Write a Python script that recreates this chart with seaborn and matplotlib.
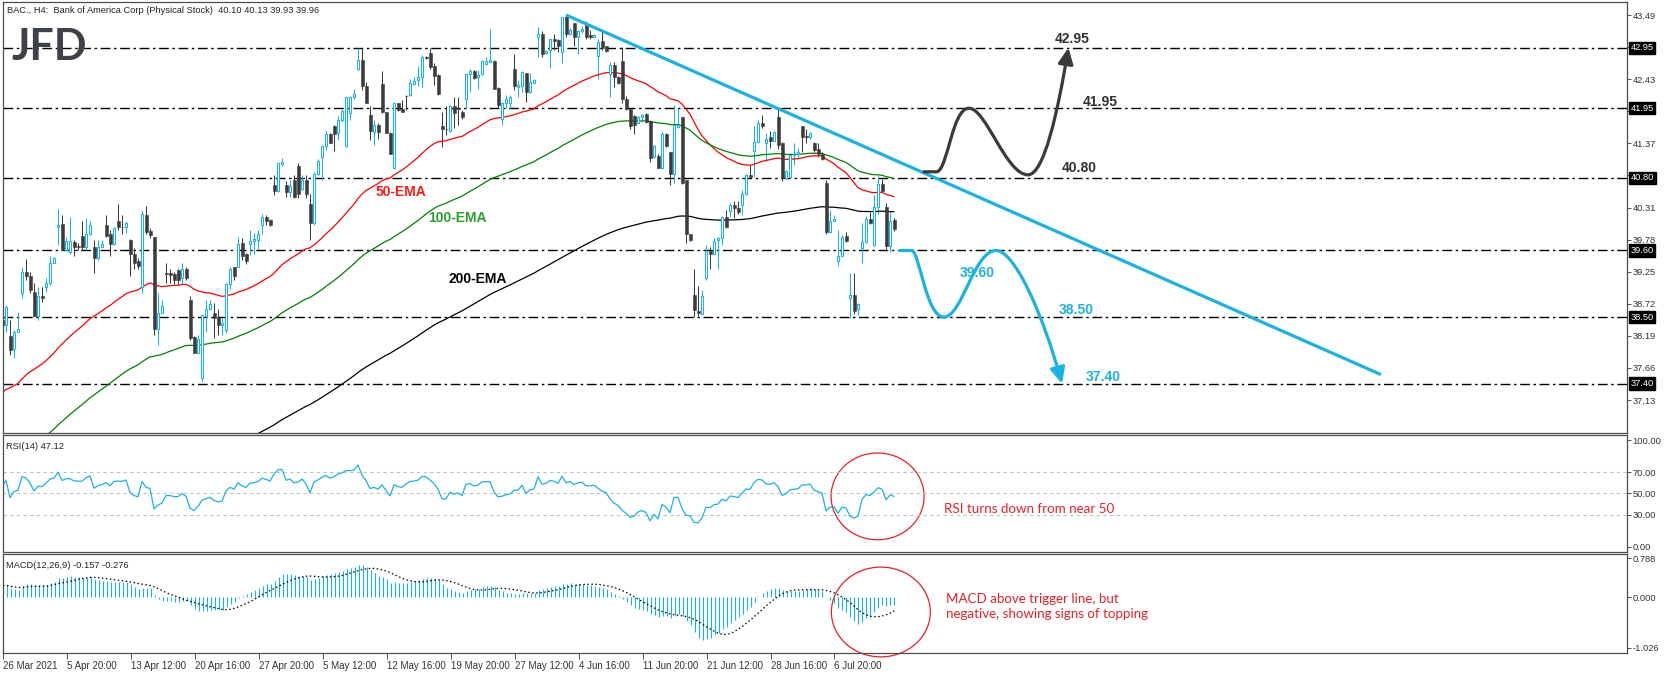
import matplotlib
matplotlib.use('Agg')
import matplotlib.pyplot as plt
from matplotlib.path import Path
from matplotlib.patches import FancyArrowPatch, Ellipse
import numpy as np
import pandas as pd
import seaborn as sns

sns.set_theme(style='white')
plt.rcParams['font.family'] = ['Liberation Sans', 'DejaVu Sans']

# H4 candles (open, high, low, close)
opens = [38.45, 38.37, 38.18, 37.97, 38.26, 38.89, 39.25, 39.18, 38.91, 38.52, 38.85, 38.99, 39.07, 39.40, 39.99, 40.03,
         39.61, 39.57, 39.74, 39.67, 39.84, 39.65, 39.88, 39.65, 39.48, 39.66, 40.02, 39.87, 39.70, 40.09, 39.99, 39.98,
         39.77, 39.55, 39.43, 38.99, 40.19, 39.93, 39.83, 38.31, 38.56, 39.23, 39.22, 39.21, 39.27, 39.14, 39.30, 38.78,
         38.17, 37.90, 37.50, 38.52, 38.63, 38.57, 38.48, 38.37, 38.28, 39.05, 39.32, 39.33, 39.72, 39.54, 39.70, 39.76,
         39.77, 40.02, 40.15, 40.10, 40.68, 40.58, 41.03, 40.68, 40.57, 40.77, 40.99, 40.61, 40.77, 40.36, 40.05, 40.87,
         41.15, 41.33, 41.52, 41.66, 41.54, 41.76, 41.33, 41.87, 42.13, 42.59, 42.75, 42.32, 41.84, 41.56, 41.67, 42.35,
         41.88, 41.54, 40.96, 42.03, 41.93, 42.16, 42.17, 42.35, 42.41, 42.46, 42.80, 42.87, 42.64, 42.50, 41.65, 41.61,
         41.58, 41.99, 41.96, 41.88, 42.10, 42.51, 42.57, 42.47, 42.52, 42.68, 42.72, 42.73, 42.28, 41.78, 42.04, 42.04,
         42.59, 42.30, 42.32, 42.53, 42.22, 42.37, 43.12, 43.17, 42.86, 42.91, 43.09, 43.08, 42.88, 43.45, 43.18, 43.35,
         43.13, 43.22, 43.34, 43.16, 43.13, 42.82, 43.06, 42.97, 42.51, 42.66, 42.47, 42.73, 42.11, 41.93, 41.82, 41.70,
         41.80, 41.86, 41.74, 41.15, 41.16, 40.97, 41.52, 41.22, 40.87, 41.64, 41.81, 40.77, 39.88, 38.86, 38.60, 38.55,
         39.14, 39.59, 39.55, 39.77, 39.80, 40.16, 40.26, 40.35, 40.30, 40.35, 40.54, 40.85, 41.25, 41.39, 41.70, 41.37,
         41.48, 41.41, 41.80, 41.37, 40.79, 40.81, 41.17, 41.19, 41.66, 41.49, 41.48, 41.38, 41.27, 41.20, 40.72, 39.91,
         40.09, 39.42, 39.51, 39.84, 38.82, 38.86, 38.63, 39.64, 39.74, 40.12, 39.69, 40.32, 40.70, 40.32, 39.68, 40.10]
highs = [38.50, 38.70, 38.45, 38.29, 38.59, 39.33, 39.46, 39.24, 39.06, 39.00, 38.99, 39.15, 39.51, 39.50, 40.29, 40.19,
         39.83, 40.15, 39.77, 39.72, 40.09, 40.14, 40.08, 39.77, 39.77, 39.77, 40.19, 39.94, 39.98, 40.37, 40.18, 40.09,
         39.79, 39.64, 39.47, 40.25, 40.34, 39.97, 39.83, 38.89, 38.78, 39.40, 39.30, 39.25, 39.30, 39.40, 39.33, 38.85,
         38.18, 38.20, 38.55, 38.78, 38.78, 38.73, 38.63, 38.48, 39.06, 39.33, 39.33, 39.83, 39.80, 39.56, 39.94, 39.89,
         39.94, 40.21, 40.19, 40.12, 40.84, 41.07, 41.12, 40.74, 40.76, 40.85, 41.04, 40.84, 40.85, 40.54, 40.89, 41.11,
         41.34, 41.58, 41.54, 41.67, 41.82, 41.93, 42.14, 42.15, 42.26, 42.94, 42.95, 42.39, 41.98, 41.76, 41.71, 42.57,
         41.88, 41.56, 42.06, 42.04, 42.09, 42.17, 42.44, 42.47, 42.65, 42.83, 42.81, 42.95, 42.69, 42.52, 41.89, 41.98,
         42.00, 42.13, 42.13, 41.92, 42.53, 42.59, 42.58, 42.58, 42.75, 42.80, 43.26, 42.74, 42.30, 42.06, 42.17, 42.17,
         42.84, 42.42, 42.57, 42.54, 42.54, 42.44, 43.30, 43.23, 42.92, 43.10, 43.17, 43.09, 43.46, 43.49, 43.27, 43.36,
         43.24, 43.31, 43.39, 43.24, 43.17, 43.09, 43.24, 42.97, 42.72, 42.72, 42.48, 42.96, 42.15, 41.95, 41.84, 41.82,
         41.86, 41.87, 41.76, 41.34, 41.19, 41.56, 41.54, 41.23, 42.00, 41.95, 41.81, 40.77, 39.88, 39.29, 39.01, 38.95,
         39.69, 39.65, 39.80, 39.83, 40.17, 40.27, 40.38, 40.41, 40.41, 40.60, 40.87, 41.01, 41.65, 41.76, 41.84, 41.54,
         41.58, 41.58, 41.95, 41.40, 40.93, 41.19, 41.37, 41.29, 41.66, 41.60, 41.55, 41.40, 41.37, 41.23, 40.77, 40.27,
         40.19, 39.94, 39.85, 39.91, 39.22, 39.22, 38.74, 40.05, 40.17, 40.24, 40.51, 40.83, 40.78, 40.38, 40.26, 40.13]
lows = [38.15, 38.26, 37.87, 37.82, 38.26, 38.82, 39.11, 38.90, 38.51, 38.45, 38.75, 38.92, 39.03, 39.39, 39.69, 39.60,
        39.60, 39.54, 39.51, 39.60, 39.61, 39.60, 39.86, 39.22, 39.45, 39.65, 39.83, 39.51, 39.69, 39.94, 39.88, 39.89,
        39.18, 39.30, 39.30, 38.90, 39.87, 39.80, 38.20, 38.04, 38.56, 39.06, 39.06, 39.05, 39.05, 39.05, 39.12, 38.12,
        37.90, 37.90, 37.42, 38.26, 38.62, 38.15, 38.20, 38.20, 38.23, 38.97, 39.11, 39.32, 39.45, 39.38, 39.52, 39.55,
        39.62, 39.87, 40.02, 40.00, 40.51, 40.57, 40.99, 40.49, 40.49, 40.46, 40.46, 40.60, 40.46, 39.78, 40.02, 40.85,
        40.77, 41.26, 41.37, 41.25, 41.42, 41.73, 41.31, 41.75, 42.11, 42.58, 42.25, 42.03, 41.42, 41.34, 41.45, 41.87,
        41.54, 41.19, 40.94, 41.91, 41.88, 41.92, 42.15, 42.33, 42.32, 42.30, 42.76, 42.59, 42.33, 42.17, 41.31, 41.51,
        41.55, 41.62, 41.67, 41.78, 41.93, 42.22, 42.44, 42.26, 42.50, 42.66, 42.72, 42.27, 41.95, 41.67, 41.95, 41.94,
        42.25, 42.13, 42.22, 42.06, 42.20, 42.37, 42.80, 42.80, 42.84, 42.61, 42.91, 42.88, 42.69, 43.13, 43.16, 42.98,
        42.85, 43.19, 43.10, 43.09, 43.12, 42.44, 42.91, 42.88, 42.13, 42.30, 42.35, 42.03, 41.92, 41.60, 41.52, 41.69,
        41.73, 41.70, 41.07, 41.13, 40.96, 40.94, 41.31, 40.68, 40.72, 41.62, 40.70, 39.73, 39.75, 38.50, 38.52, 38.53,
        39.12, 39.30, 39.54, 39.29, 39.69, 39.97, 40.16, 40.13, 40.20, 40.19, 40.52, 40.82, 40.82, 41.38, 41.62, 41.08,
        41.30, 41.41, 41.27, 40.75, 40.79, 40.79, 41.01, 41.15, 41.22, 41.37, 41.44, 41.23, 41.15, 41.09, 39.88, 39.89,
        40.08, 39.34, 39.51, 39.74, 38.48, 38.55, 38.53, 39.40, 39.72, 40.04, 39.67, 40.20, 40.57, 39.63, 39.58, 39.93]
closes = [38.37, 38.66, 37.96, 38.26, 38.31, 39.25, 39.18, 38.94, 38.52, 38.85, 38.82, 39.07, 39.40, 39.47, 40.02, 39.61,
          39.76, 39.76, 39.66, 39.65, 39.65, 39.88, 40.02, 39.48, 39.65, 39.71, 39.84, 39.70, 39.97, 39.99, 39.98, 40.06,
          39.55, 39.40, 39.35, 40.20, 39.91, 39.86, 38.31, 38.56, 38.68, 39.21, 39.20, 39.12, 39.12, 39.30, 39.14, 38.15,
          37.90, 38.13, 38.53, 38.63, 38.72, 38.48, 38.37, 38.41, 39.04, 39.30, 39.18, 39.70, 39.51, 39.42, 39.76, 39.79,
          39.88, 40.15, 40.09, 40.02, 40.59, 41.04, 41.07, 40.57, 40.67, 40.48, 40.54, 40.77, 40.54, 40.05, 40.87, 41.08,
          41.33, 41.52, 41.38, 41.52, 41.76, 41.90, 42.13, 42.13, 42.19, 42.75, 42.31, 42.03, 41.58, 41.67, 41.56, 41.88,
          41.54, 41.19, 42.04, 41.92, 41.88, 42.15, 42.36, 42.40, 42.47, 42.80, 42.78, 42.63, 42.48, 42.19, 41.61, 41.60,
          41.99, 41.87, 41.94, 41.80, 42.51, 42.57, 42.45, 42.50, 42.73, 42.73, 42.74, 42.27, 42.01, 42.04, 42.11, 42.14,
          42.31, 42.33, 42.55, 42.22, 42.39, 42.42, 43.17, 42.84, 42.90, 43.09, 43.06, 42.97, 43.45, 43.18, 43.25, 43.13,
          43.23, 43.26, 43.13, 43.12, 43.16, 43.05, 42.95, 42.90, 42.66, 42.47, 42.37, 42.11, 41.93, 41.65, 41.68, 41.80,
          41.84, 41.73, 41.13, 41.33, 40.97, 41.52, 41.33, 40.87, 41.67, 41.68, 40.72, 39.88, 39.78, 38.62, 38.56, 38.85,
          39.59, 39.55, 39.76, 39.80, 40.15, 39.99, 40.35, 40.31, 40.23, 40.54, 40.85, 40.82, 41.39, 41.70, 41.66, 41.45,
          41.41, 41.55, 41.34, 40.79, 40.91, 41.17, 41.20, 41.23, 41.48, 41.48, 41.54, 41.26, 41.19, 41.11, 39.91, 40.09,
          40.12, 39.51, 39.83, 39.75, 38.86, 38.60, 38.71, 39.74, 40.12, 40.05, 40.32, 40.70, 40.59, 39.68, 40.09, 39.96]

# indicator values at the first visible bar
ema_start = {50: 37.25, 100: 36.00, 200: 34.20}
macd_start = (38.35, 38.12)          # EMA12, EMA26
rsi_start = (0.080, 0.062)           # average gain, average loss

# horizontal levels and price-axis ticks
levels = [42.95, 41.95, 40.80, 39.60, 38.50, 37.40]
price_ticks = [43.49, 42.96, 42.43, 41.90, 41.37, 40.84, 40.31, 39.78, 39.25, 38.72, 38.19, 37.66, 37.13]
rsi_ticks = [100, 70, 50, 30, 0]
macd_ticks = [0.788, 0.0, -1.026]
date_labels = ['26 Mar 2021', '5 Apr 20:00', '13 Apr 12:00', '20 Apr 16:00', '27 Apr 20:00', '5 May 12:00',
               '12 May 16:00', '19 May 20:00', '27 May 12:00', '4 Jun 16:00', '11 Jun 20:00', '21 Jun 12:00',
               '28 Jun 16:00', '6 Jul 20:00']

# trend line (bar, price) and scenario paths
trend_x = [141, 344.75]
trend_y = [43.49, 37.55]
bull_path = [(230.5, 40.90), (233.75, 40.90),
             (236.5, 40.95), (237.5, 41.95), (241.75, 41.95),
             (246.0, 41.95), (251.0, 40.85), (256.5, 40.85),
             (260.5, 40.85), (264.0, 41.90), (266.6, 42.95)]
bear_path = [(224.5, 39.60), (227.5, 39.60),
             (229.5, 39.55), (231.0, 38.50), (235.5, 38.50),
             (240.0, 38.50), (243.0, 39.60), (248.5, 39.60),
             (253.0, 39.60), (260.0, 38.60), (265.0, 37.40)]

BLUE = '#1ab2e2'
DARK = '#3b3b3b'
RED = '#e8202a'
W, H = 1670, 674
SMALL = 6.7

n = len(closes)
idx = np.arange(n)
df = pd.DataFrame({'o': opens, 'h': highs, 'l': lows, 'c': closes}, index=idx)


def ema(seed, span):
    s = pd.Series([seed] + closes[1:])
    return s.ewm(span=span, adjust=False).mean().to_numpy()


ema50, ema100, ema200 = ema(ema_start[50], 50), ema(ema_start[100], 100), ema(ema_start[200], 200)

# RSI(14), Wilder smoothing
ag, al = rsi_start
rsi = [100 * ag / (ag + al)]
for d in np.diff(closes):
    ag = (ag * 13 + max(d, 0)) / 14
    al = (al * 13 + max(-d, 0)) / 14
    rsi.append(100 * ag / (ag + al))
rsi = np.array(rsi)

macd = ema(macd_start[0], 12) - ema(macd_start[1], 26)
signal = pd.Series(macd).rolling(9, min_periods=1).mean().to_numpy()

fig = plt.figure(figsize=(W / 100, H / 100), dpi=100)


def box(x0, y0, x1, y1):
    return [x0 / W, 1 - y1 / H, (x1 - x0) / W, (y1 - y0) / H]


ax = fig.add_axes(box(3, 2, 1627, 433))
ax_rsi = fig.add_axes(box(3, 435, 1627, 552))
ax_macd = fig.add_axes(box(3, 554, 1627, 653))

for a in (ax, ax_rsi, ax_macd):
    a.set_xlim(0.25, 406.25)
    for sp in a.spines.values():
        sp.set_color('#4d4d4d')
        sp.set_linewidth(0.9)
    a.yaxis.tick_right()
    a.tick_params(axis='y', direction='out', length=3, width=0.7, color='#4d4d4d',
                  labelsize=SMALL, labelcolor='#333333', pad=1)
    a.set_xticks([])
    a.grid(False)

# ---- price panel
ax.set_ylim(36.585, 43.705)
for lv in levels:
    ax.axhline(lv, color='black', lw=1.0, dashes=(7, 2.6, 1.8, 2.6), zorder=1)

bull = df[df.c >= df.o]
bear = df[df.c < df.o]
ax.vlines(bull.index, bull.l, bull.h, color=BLUE, lw=0.75, zorder=2)
ax.vlines(bear.index, bear.l, bear.h, color=DARK, lw=0.75, zorder=2)
ax.bar(bull.index, np.maximum(bull.c - bull.o, 0.006), bottom=bull.o, width=0.6,
       facecolor='white', edgecolor=BLUE, linewidth=0.75, zorder=3)
ax.bar(bear.index, np.maximum(bear.o - bear.c, 0.006), bottom=bear.c, width=0.75,
       facecolor=DARK, edgecolor=DARK, linewidth=0.4, zorder=3)

sns.lineplot(x=idx, y=ema50, ax=ax, color='#ff0000', lw=0.9, zorder=2.5)
sns.lineplot(x=idx, y=ema100, ax=ax, color='#008000', lw=0.9, zorder=2.5)
sns.lineplot(x=idx, y=ema200, ax=ax, color='black', lw=0.9, zorder=2.5)

ax.plot(trend_x, trend_y, color=BLUE, lw=2.3, solid_capstyle='butt', zorder=4)


def scenario(points, color):
    codes = [Path.MOVETO, Path.LINETO] + [Path.CURVE4] * (len(points) - 2)
    arr = FancyArrowPatch(path=Path(points, codes),
                          arrowstyle='-|>,head_length=0.95,head_width=0.45',
                          mutation_scale=10, color=color, lw=2.3, zorder=5)
    ax.add_patch(arr)


scenario(bull_path, '#3a3a3a')
scenario(bear_path, BLUE)

lab = dict(fontsize=10, fontweight='bold', ha='center', va='center', zorder=6)
ax.text(99.75, 40.566, '50-EMA', color='#ff1a1a', **lab)
ax.text(113.75, 40.137, '100-EMA', color='#2ca02c', **lab)
ax.text(119.0, 39.129, '200-EMA', color='black', **lab)
ax.text(267.5, 43.09, '42.95', color='#333333', **lab)
ax.text(274.5, 42.05, '41.95', color='#333333', **lab)
ax.text(269.25, 40.96, '40.80', color='#333333', **lab)
ax.text(243.75, 39.23, '39.60', color=BLUE, **lab)
ax.text(268.5, 38.62, '38.50', color=BLUE, **lab)
ax.text(275.25, 37.51, '37.40', color=BLUE, **lab)

# tick labels that sit under a level box stay blank
ax.set_yticks(price_ticks)
ax.set_yticklabels(['' if min(abs(t - lv) for lv in levels) < 0.06 else f'{t:.2f}' for t in price_ticks])
for lv in levels:
    ax.annotate(f'{lv:.2f}', xy=(1.0, lv), xycoords=('axes fraction', 'data'),
                xytext=(2.5, 0), textcoords='offset points', ha='left', va='center',
                fontsize=SMALL, color='white', zorder=10, annotation_clip=False,
                bbox=dict(boxstyle='square,pad=0.18', fc='black', ec='black'))

ax.text(0.005, 0.866, 'JFD', transform=ax.transAxes, fontsize=31, fontweight='bold',
        family='Lato', color='#3d4249', va='baseline', ha='left', zorder=6)

fig.text(7 / W, 1 - 13 / H, 'BAC., H4:  Bank of America Corp (Physical Stock)  40.10 40.13 39.93 39.96',
         fontsize=SMALL, color='#222222', va='baseline', ha='left')

# ---- RSI panel
ax_rsi.set_ylim(-4.9, 104.7)
for lv in (70, 50, 30):
    ax_rsi.axhline(lv, color='#c0c0c0', lw=0.8, ls=(0, (3, 3)))
sns.lineplot(x=idx, y=rsi, ax=ax_rsi, color=BLUE, lw=0.9)
ax_rsi.set_yticks(rsi_ticks)
ax_rsi.set_yticklabels([f'{t:.2f}' for t in rsi_ticks])
ax_rsi.text(0.002, 0.9, 'RSI(14) 47.12', transform=ax_rsi.transAxes, fontsize=SMALL, color='#222222',
            va='center', ha='left')
ax_rsi.add_patch(Ellipse((218.9, 47.2), 23.25, 81.3, fill=False, ec=RED, lw=0.9, clip_on=False))
ax_rsi.text(235.5, 35.5, 'RSI turns down from near 50', color=RED, fontsize=9.6, family='Lato',
            va='center', ha='left')

# ---- MACD panel
ax_macd.set_ylim(-1.127, 0.869)
ax_macd.vlines(idx, 0, macd, color=BLUE, lw=0.8)
ax_macd.plot(idx, signal, color='black', lw=0.9, ls=(0, (1.2, 2.0)))
ax_macd.set_yticks(macd_ticks)
ax_macd.set_yticklabels([f'{t:.3f}' for t in macd_ticks])
ax_macd.text(0.002, 0.88, 'MACD(12,26,9) -0.157 -0.276', transform=ax_macd.transAxes, fontsize=SMALL,
             color='#222222', va='center', ha='left')
ax_macd.add_patch(Ellipse((219.6, -0.30), 24.75, 1.81, fill=False, ec=RED, lw=0.9, clip_on=False))
ax_macd.text(236.0, -0.19, 'MACD above trigger line, but\nnegative, showing signs of topping', color=RED,
             fontsize=9.6, family='Lato', va='center', ha='left', linespacing=1.35)

ax_macd.set_xticks(np.arange(len(date_labels)) * 16)
ax_macd.set_xticklabels(date_labels, ha='left')
ax_macd.tick_params(axis='x', direction='out', length=4, width=0.7, color='#4d4d4d',
                    labelsize=7, labelcolor='#333333', pad=2, bottom=True)

fig.savefig('out.png', dpi=100, facecolor='white')
